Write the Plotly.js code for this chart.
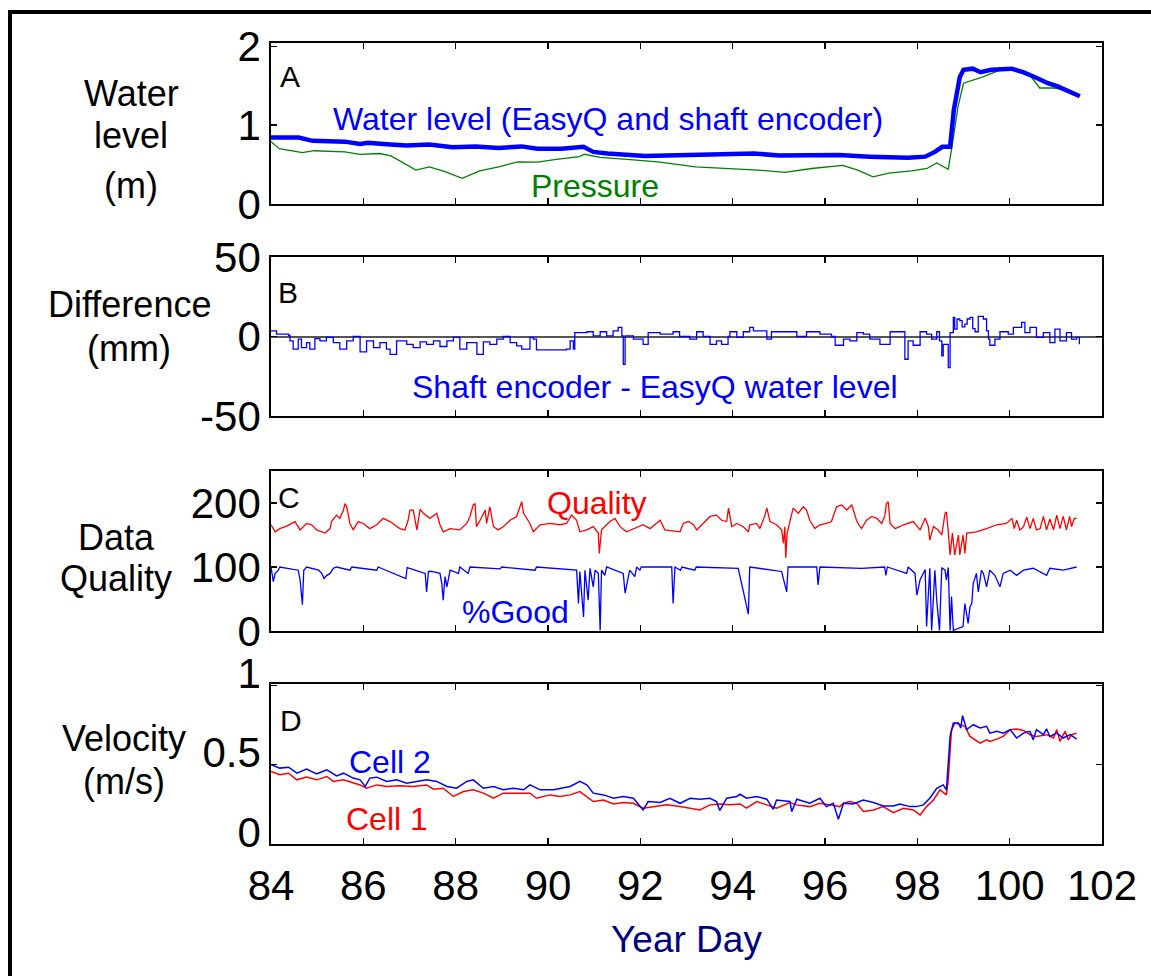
<!DOCTYPE html>
<html>
<head>
<meta charset="utf-8">
<script src="https://cdn.plot.ly/plotly-3.0.1.min.js"></script>
<style>
html,body{margin:0;padding:0;background:#fff;}
#chart{width:1151px;height:976px;}
</style>
</head>
<body>
<div id="chart"></div>
<script>
// ---------------- DATA ----------------
const xTickVals = [84, 86, 88, 90, 92, 94, 96, 98, 100, 102];
const yTicksA = [0, 1, 2];
const yTicksB = [-50, 0, 50];
const yTicksC = [0, 100, 200];
const yTicksD = [0, 0.5, 1];

// Panel A: water level (EasyQ and shaft encoder), m
const dayLevel = [84.0, 84.6, 84.9, 85.6, 85.93, 86.1, 86.43, 86.93, 87.43, 87.93, 88.43, 88.93, 89.43, 89.77, 90.3, 90.6, 90.77, 90.98, 91.29, 92.1, 93.0, 93.3, 94.46, 95.0, 96.3, 96.96, 97.8, 98.17, 98.38, 98.54, 98.71, 98.79, 98.92, 99.0, 99.2, 99.37, 99.6, 100.04, 100.29, 100.54, 100.83, 101.04, 101.29, 101.52];
const waterLevel = [0.843, 0.843, 0.80, 0.79, 0.76, 0.775, 0.76, 0.74, 0.755, 0.72, 0.73, 0.71, 0.73, 0.70, 0.70, 0.72, 0.725, 0.66, 0.64, 0.607, 0.615, 0.63, 0.64, 0.615, 0.62, 0.60, 0.585, 0.60, 0.66, 0.725, 0.725, 1.19, 1.61, 1.70, 1.715, 1.67, 1.70, 1.715, 1.67, 1.61, 1.53, 1.49, 1.43, 1.365];

// Panel A: pressure-derived level, m
const dayPressure = [84.0, 84.18, 84.68, 84.93, 85.6, 85.93, 86.35, 86.6, 87.14, 87.43, 87.77, 88.14, 88.52, 88.93, 89.35, 89.77, 90.18, 90.68, 90.79, 91.13, 91.71, 92.38, 93.2, 93.8, 94.54, 95.13, 95.71, 96.38, 96.71, 97.04, 97.38, 97.88, 98.21, 98.42, 98.67, 98.75, 98.88, 99.0, 99.42, 99.8, 100.15, 100.44, 100.65, 100.94, 101.21, 101.48];
const pressure = [0.79, 0.70, 0.65, 0.675, 0.66, 0.63, 0.64, 0.61, 0.43, 0.47, 0.41, 0.325, 0.42, 0.47, 0.535, 0.53, 0.565, 0.60, 0.63, 0.59, 0.565, 0.535, 0.47, 0.45, 0.43, 0.40, 0.45, 0.49, 0.43, 0.345, 0.39, 0.42, 0.45, 0.52, 0.44, 0.725, 1.23, 1.53, 1.61, 1.70, 1.71, 1.63, 1.47, 1.47, 1.45, 1.37];

// Panel B: shaft encoder - EasyQ difference, mm
const dayDiff = [84.0, 84.12, 84.38, 84.41, 84.48, 84.59, 84.66, 84.77, 84.84, 84.95, 85.06, 85.2, 85.35, 85.49, 85.64, 85.78, 85.93, 86.07, 86.22, 86.36, 86.5, 86.58, 86.72, 86.94, 87.08, 87.23, 87.37, 87.52, 87.66, 87.81, 87.95, 88.09, 88.24, 88.46, 88.6, 88.74, 88.89, 89.03, 89.18, 89.32, 89.43, 89.61, 89.68, 89.75, 90.4, 90.48, 90.55, 90.58, 90.84, 90.98, 91.13, 91.27, 91.41, 91.52, 91.6, 91.63, 91.67, 91.85, 92.06, 92.17, 92.43, 92.71, 92.85, 93.07, 93.22, 93.36, 93.51, 93.65, 93.76, 93.9, 93.94, 94.09, 94.23, 94.37, 94.45, 94.74, 94.84, 95.24, 95.39, 95.6, 95.89, 96.14, 96.22, 96.4, 96.54, 96.69, 96.83, 96.97, 97.19, 97.41, 97.73, 97.8, 97.91, 98.06, 98.2, 98.31, 98.42, 98.48, 98.53, 98.56, 98.67, 98.71, 98.78, 98.81, 98.86, 98.92, 98.97, 99.03, 99.08, 99.14, 99.2, 99.25, 99.32, 99.43, 99.5, 99.54, 99.57, 99.68, 99.79, 99.97, 100.08, 100.26, 100.33, 100.44, 100.58, 100.73, 100.87, 100.98, 101.09, 101.23, 101.34, 101.45, 101.51];
const diffMM = [3.6, 1.5, 0.8, -2.7, -8, -1.7, -7, -3.8, -8, -1.3, -2.7, -0.6, -3.8, -8, -2.7, 0, -9.7, -2.7, -7, -3.8, -8, -11.2, -2.7, -4.9, -7, -3.4, -4.9, -2.7, -6.3, -2.7, -0.6, -8, -3.8, -11.2, -3.4, -4.9, -1.7, 0, -3.8, -5.9, -8, -0.6, -1.7, -8.4, -8, -2.7, -8, 2.5, 3, 0.4, 3, 0.4, 3.6, 5.7, 0.4, -17.5, 0.4, -1.7, -4.9, 2.5, 1.5, 3, 0, -1.7, 3, 0, -4.9, -2.7, -4.9, 0, 3, -0.6, 3, 5.7, 3.6, -1.7, 3, 3, 0, 3, 1.5, 0, -5.5, -1.7, -2.7, 2.5, 1.5, -1.7, -4.9, 3, -14.3, -2.7, -5.5, 3, 1.5, -1.7, 3, -2.7, -12.2, -4.9, -19.6, 2.5, 12, 4.6, 11, 10, 6, 7.8, 11, 12, 5, 3, 12.7, 11, 3.6, -1.7, -5.5, -1.7, 3, 1.5, 5.7, 8.9, 2.5, 5.7, -0.6, 2.5, -3.8, 4.6, -2.7, 2.5, -1.7, -0.6, -4.9];

// Panel C: data quality (red) and %Good (blue)
const dayQual = [84.0, 84.09, 84.19, 84.34, 84.52, 84.63, 84.77, 84.88, 84.99, 85.17, 85.28, 85.31, 85.42, 85.49, 85.57, 85.6, 85.64, 85.68, 85.71, 85.78, 85.89, 86.0, 86.14, 86.29, 86.43, 86.58, 86.79, 86.9, 86.97, 87.01, 87.08, 87.16, 87.23, 87.3, 87.44, 87.59, 87.66, 87.73, 87.88, 88.09, 88.24, 88.31, 88.38, 88.42, 88.45, 88.53, 88.64, 88.67, 88.74, 88.82, 88.92, 89.03, 89.18, 89.32, 89.39, 89.43, 89.47, 89.61, 89.68, 89.83, 90.04, 90.26, 90.4, 90.51, 90.62, 90.69, 90.84, 90.98, 91.09, 91.11, 91.16, 91.34, 91.45, 91.56, 91.7, 91.85, 92.06, 92.21, 92.43, 92.53, 92.86, 92.93, 93.04, 93.15, 93.22, 93.36, 93.51, 93.65, 93.76, 93.87, 93.91, 93.98, 94.09, 94.23, 94.34, 94.37, 94.52, 94.59, 94.7, 94.74, 94.81, 94.95, 95.06, 95.1, 95.13, 95.15, 95.18, 95.24, 95.31, 95.42, 95.53, 95.6, 95.67, 95.78, 95.89, 96.03, 96.14, 96.25, 96.36, 96.47, 96.58, 96.69, 96.79, 96.9, 97.01, 97.12, 97.23, 97.3, 97.33, 97.37, 97.41, 97.52, 97.7, 97.91, 98.06, 98.17, 98.24, 98.27, 98.35, 98.45, 98.53, 98.6, 98.63, 98.67, 98.71, 98.76, 98.81, 98.89, 98.92, 98.99, 99.03, 99.07, 99.28, 99.5, 99.72, 99.93, 100.05, 100.1, 100.15, 100.22, 100.3, 100.37, 100.44, 100.51, 100.58, 100.66, 100.73, 100.8, 100.87, 100.95, 101.02, 101.09, 101.16, 101.23, 101.3, 101.34, 101.4, 101.45];
const quality = [166, 155, 160, 164, 171, 158, 168, 166, 158, 153, 160, 171, 181, 176, 189, 199, 194, 176, 168, 158, 171, 168, 160, 166, 176, 171, 160, 158, 173, 189, 189, 158, 190, 184, 176, 184, 166, 155, 160, 158, 168, 179, 197, 199, 163, 173, 189, 168, 194, 163, 158, 163, 173, 179, 192, 202, 184, 168, 155, 166, 168, 166, 168, 181, 173, 155, 158, 163, 153, 121, 158, 171, 176, 163, 155, 160, 166, 160, 173, 158, 155, 168, 171, 166, 158, 168, 179, 181, 173, 171, 192, 163, 168, 163, 155, 166, 168, 160, 181, 192, 171, 166, 158, 137, 163, 114, 153, 171, 192, 184, 194, 189, 173, 160, 166, 168, 171, 194, 197, 189, 197, 171, 160, 173, 179, 176, 168, 181, 199, 202, 168, 160, 166, 171, 158, 176, 163, 142, 163, 158, 150, 184, 186, 155, 119, 153, 119, 150, 119, 150, 121, 153, 155, 160, 166, 168, 176, 160, 173, 158, 163, 178, 160, 176, 158, 160, 179, 158, 175, 158, 181, 160, 179, 158, 179, 163, 176, 176];

const dayGood = [84.0, 84.05, 84.09, 84.16, 84.19, 84.59, 84.63, 84.68, 84.71, 84.77, 85.03, 85.1, 85.15, 85.21, 85.28, 85.35, 85.42, 85.71, 85.75, 86.29, 86.32, 86.92, 86.95, 87.34, 87.37, 87.41, 87.48, 87.66, 87.7, 87.73, 87.77, 87.81, 87.88, 88.06, 88.09, 88.27, 88.31, 88.96, 89.0, 89.72, 89.75, 90.62, 90.66, 90.69, 90.77, 90.8, 90.87, 90.91, 90.98, 91.02, 91.09, 91.13, 91.16, 91.23, 91.27, 91.63, 91.67, 91.7, 91.77, 91.88, 91.92, 91.99, 92.02, 92.68, 92.71, 92.75, 92.87, 92.9, 93.18, 93.21, 94.12, 94.34, 94.37, 95.06, 95.17, 95.2, 95.82, 95.85, 95.89, 96.79, 97.29, 97.32, 97.35, 97.77, 97.8, 97.95, 97.99, 98.06, 98.17, 98.2, 98.27, 98.31, 98.38, 98.42, 98.48, 98.53, 98.6, 98.63, 98.67, 98.71, 98.74, 98.78, 98.85, 98.92, 98.99, 99.03, 99.1, 99.14, 99.18, 99.21, 99.28, 99.32, 99.39, 99.43, 99.5, 99.57, 99.68, 99.79, 99.86, 100.01, 100.15, 100.3, 100.51, 100.8, 100.87, 101.16, 101.45];
const pctGood = [100, 77, 90, 95, 100, 95, 80, 41, 95, 100, 95, 90, 82, 87, 90, 98, 100, 95, 100, 95, 100, 82, 99, 90, 61, 93, 93, 90, 74, 48, 85, 69, 95, 90, 100, 90, 100, 97, 100, 95, 100, 95, 43, 93, 22, 95, 48, 98, 69, 95, 90, 1, 95, 87, 100, 90, 59, 69, 95, 85, 100, 95, 100, 100, 43, 100, 95, 100, 95, 100, 98, 26.5, 100, 93, 61, 100, 100, 72, 100, 98, 100, 87, 100, 90, 100, 90, 56, 80, 96, 7, 98, 1, 95, 48, 1, 99, 95, 80, 99, 1, 54, 1, 3, 4, 7, 43, 12, 38, 43, 74, 90, 61, 95, 90, 69, 95, 87, 69, 90, 95, 87, 95, 98, 87, 98, 95, 100];

// Panel D: velocity, m/s
const dayCell1 = [84.0, 84.19, 84.38, 84.56, 84.77, 84.99, 85.21, 85.35, 85.57, 85.78, 85.93, 86.07, 86.29, 86.51, 86.79, 87.08, 87.37, 87.52, 87.73, 87.95, 88.17, 88.38, 88.6, 88.82, 89.03, 89.32, 89.61, 89.75, 90.04, 90.26, 90.48, 90.69, 90.98, 91.2, 91.42, 91.63, 91.85, 92.06, 92.28, 92.57, 92.86, 93.08, 93.29, 93.51, 93.72, 93.94, 94.16, 94.3, 94.52, 94.74, 94.95, 95.24, 95.38, 95.67, 95.89, 96.11, 96.32, 96.4, 96.54, 96.69, 96.83, 97.05, 97.26, 97.48, 97.7, 97.91, 98.06, 98.2, 98.35, 98.49, 98.63, 98.67, 98.74, 98.82, 98.92, 99.03, 99.14, 99.36, 99.5, 99.57, 99.72, 99.86, 100.01, 100.15, 100.3, 100.44, 100.58, 100.8, 100.95, 101.02, 101.09, 101.2, 101.27, 101.34, 101.45];
const cell1 = [0.458, 0.437, 0.447, 0.405, 0.422, 0.405, 0.426, 0.395, 0.405, 0.384, 0.373, 0.352, 0.373, 0.363, 0.367, 0.363, 0.373, 0.346, 0.352, 0.30, 0.331, 0.342, 0.321, 0.289, 0.321, 0.321, 0.321, 0.289, 0.31, 0.30, 0.31, 0.331, 0.268, 0.278, 0.253, 0.262, 0.257, 0.226, 0.236, 0.247, 0.236, 0.226, 0.215, 0.247, 0.253, 0.247, 0.253, 0.226, 0.268, 0.247, 0.226, 0.262, 0.247, 0.236, 0.257, 0.247, 0.236, 0.257, 0.268, 0.257, 0.205, 0.215, 0.236, 0.198, 0.226, 0.215, 0.184, 0.236, 0.278, 0.342, 0.31, 0.405, 0.722, 0.764, 0.753, 0.743, 0.679, 0.637, 0.658, 0.648, 0.662, 0.679, 0.722, 0.726, 0.717, 0.69, 0.679, 0.69, 0.669, 0.722, 0.648, 0.711, 0.658, 0.69, 0.70];

const dayCell2 = [84.0, 84.19, 84.38, 84.56, 84.77, 84.99, 85.21, 85.42, 85.57, 85.78, 85.93, 86.04, 86.14, 86.29, 86.51, 86.72, 86.94, 87.16, 87.37, 87.59, 87.81, 88.02, 88.24, 88.38, 88.6, 88.82, 89.03, 89.25, 89.47, 89.61, 89.83, 90.12, 90.33, 90.48, 90.69, 90.84, 90.98, 91.2, 91.42, 91.63, 91.85, 92.06, 92.17, 92.43, 92.64, 92.86, 93.08, 93.29, 93.51, 93.65, 93.72, 93.87, 94.09, 94.16, 94.3, 94.52, 94.74, 94.88, 94.95, 95.24, 95.28, 95.39, 95.67, 95.89, 96.03, 96.18, 96.29, 96.4, 96.61, 96.83, 97.05, 97.26, 97.48, 97.62, 97.84, 97.98, 98.13, 98.27, 98.42, 98.56, 98.63, 98.71, 98.78, 98.89, 98.94, 98.98, 99.07, 99.21, 99.36, 99.5, 99.57, 99.72, 99.86, 100.01, 100.15, 100.3, 100.44, 100.51, 100.58, 100.73, 100.8, 100.87, 101.02, 101.16, 101.31, 101.45];
const cell2 = [0.50, 0.479, 0.485, 0.447, 0.473, 0.443, 0.468, 0.43, 0.447, 0.416, 0.405, 0.363, 0.416, 0.422, 0.395, 0.405, 0.384, 0.395, 0.405, 0.395, 0.363, 0.352, 0.395, 0.405, 0.352, 0.363, 0.342, 0.352, 0.342, 0.373, 0.342, 0.342, 0.352, 0.363, 0.395, 0.373, 0.321, 0.31, 0.289, 0.30, 0.289, 0.215, 0.268, 0.262, 0.289, 0.257, 0.289, 0.283, 0.289, 0.268, 0.211, 0.289, 0.30, 0.314, 0.289, 0.30, 0.283, 0.219, 0.278, 0.268, 0.205, 0.283, 0.257, 0.289, 0.236, 0.257, 0.156, 0.257, 0.253, 0.278, 0.262, 0.24, 0.24, 0.253, 0.236, 0.236, 0.247, 0.289, 0.352, 0.373, 0.342, 0.679, 0.764, 0.764, 0.732, 0.81, 0.722, 0.753, 0.732, 0.743, 0.70, 0.711, 0.70, 0.722, 0.669, 0.70, 0.711, 0.658, 0.722, 0.69, 0.726, 0.679, 0.70, 0.669, 0.69, 0.662];

// ---------------- LAYOUT helpers (pixel -> paper) ----------------
const FW = 1151, FH = 976;
const PL = 271, PR = 1102, PT = 43, PB = 844;
const px = p => (p - PL) / (PR - PL);
const py = p => (PB - p) / (PB - PT);
const dom = (top, bot) => [py(bot), py(top)];

const BLUE = '#0000ff', RED = '#ff0000', GREEN = '#008000';
const FONT = 'Liberation Sans, Arial, Helvetica, sans-serif';

const traces = [
  {x: dayPressure, y: pressure, xaxis: 'x', yaxis: 'y', mode: 'lines', line: {color: GREEN, width: 1.3}, name: 'Pressure'},
  {x: dayLevel, y: waterLevel, xaxis: 'x', yaxis: 'y', mode: 'lines', line: {color: BLUE, width: 4.5}, name: 'Water level'},
  {x: dayDiff, y: diffMM, xaxis: 'x2', yaxis: 'y2', mode: 'lines', line: {color: BLUE, width: 1.3, shape: 'hv'}, name: 'Difference'},
  {x: dayQual, y: quality, xaxis: 'x3', yaxis: 'y3', mode: 'lines', line: {color: RED, width: 1.3}, name: 'Quality'},
  {x: dayGood, y: pctGood, xaxis: 'x3', yaxis: 'y3', mode: 'lines', line: {color: BLUE, width: 1.3}, name: '%Good'},
  {x: dayCell1, y: cell1, xaxis: 'x4', yaxis: 'y4', mode: 'lines', line: {color: RED, width: 1.5}, name: 'Cell 1'},
  {x: dayCell2, y: cell2, xaxis: 'x4', yaxis: 'y4', mode: 'lines', line: {color: BLUE, width: 1.5}, name: 'Cell 2'}
];

function xAxis(anchor, labels) {
  const a = {
    anchor: anchor, domain: [0, 1], range: [84, 102],
    tickmode: 'array', tickvals: xTickVals, ticktext: xTickVals.map(String),
    ticks: 'inside', ticklen: 6, tickwidth: 1.3, tickcolor: '#000',
    showline: true, linecolor: '#000', linewidth: 1.8, mirror: 'ticks',
    showgrid: false, zeroline: false, showticklabels: labels,
    tickfont: {family: FONT, size: 42, color: '#000'}
  };
  if (anchor !== 'y') a.matches = 'x';
  return a;
}
function yAxis(anchor, d, range, ticks, extra) {
  return Object.assign({
    anchor: anchor, domain: d, range: range,
    tickmode: 'array', tickvals: ticks, ticktext: ticks.map(String),
    ticks: 'inside', ticklen: 6, tickwidth: 1.3, tickcolor: '#000',
    showline: true, linecolor: '#000', linewidth: 1.8, mirror: 'ticks',
    showgrid: false, zeroline: false,
    tickfont: {family: FONT, size: 42, color: '#000'}
  }, extra || {});
}

const annotations = [];
function txt(text, xPix, yPix, size, color, xanchor) {
  annotations.push({
    xref: 'paper', yref: 'paper', x: px(xPix), y: py(yPix),
    text: text, showarrow: false, xanchor: xanchor || 'center', yanchor: 'middle',
    font: {family: FONT, size: size, color: color}
  });
}
// y-axis titles (horizontal, stacked lines)
txt('Water', 131, 93, 36, '#000');
txt('level', 131, 136, 36, '#000');
txt('(m)', 131, 185, 36, '#000');
txt('Difference', 129, 304, 36, '#000');
txt('(mm)', 129, 348, 36, '#000');
txt('Data', 116, 537, 36, '#000');
txt('Quality', 116, 578, 36, '#000');
txt('Velocity', 124, 738, 36, '#000');
txt('(m/s)', 124, 781, 36, '#000');
// panel letters
txt('A', 278, 76, 30, '#000', 'left');
txt('B', 276, 292, 30, '#000', 'left');
txt('C', 276, 497, 30, '#000', 'left');
txt('D', 278, 720, 30, '#000', 'left');
// in-panel labels
txt('Water level (EasyQ and shaft encoder)', 608, 119, 32, BLUE);
txt('Pressure', 595, 186, 32, GREEN);
txt('Shaft encoder - EasyQ water level', 655, 387, 32, BLUE);
txt('Quality', 597, 503, 32, RED);
txt('%Good', 515, 612, 32, BLUE);
txt('Cell 2', 390, 762, 32, BLUE);
txt('Cell 1', 387, 819, 32, RED);

const layout = {
  width: FW, height: FH,
  margin: {l: PL, r: FW - PR, t: PT, b: FH - PB, pad: 0},
  paper_bgcolor: '#fff', plot_bgcolor: '#fff',
  showlegend: false,
  font: {family: FONT, color: '#000'},
  xaxis: xAxis('y', false),
  xaxis2: xAxis('y2', false),
  xaxis3: xAxis('y3', false),
  xaxis4: Object.assign(xAxis('y4', true), {
    ticklabelstandoff: 4,
    title: {text: 'Year Day', font: {family: FONT, size: 37, color: '#000080'}, standoff: 18}
  }),
  yaxis: yAxis('x', dom(43, 204), [0, 2.04], yTicksA),
  yaxis2: yAxis('x2', dom(257, 416), [-50, 50], yTicksB,
    {zeroline: true, zerolinecolor: '#555', zerolinewidth: 2}),
  yaxis3: yAxis('x3', dom(471, 631), [0, 250], yTicksC),
  yaxis4: yAxis('x4', dom(684, 844), [0, 1.01], yTicksD, {ticklabelshift: -12}),
  annotations: annotations,
  shapes: [{
    type: 'rect', xref: 'paper', yref: 'paper',
    x0: px(10), x1: px(1165), y0: py(990), y1: py(12),
    line: {color: '#000', width: 4}, fillcolor: 'rgba(0,0,0,0)', layer: 'above'
  }]
};

Plotly.newPlot('chart', traces, layout, {displayModeBar: false, staticPlot: true});
</script>
</body>
</html>
